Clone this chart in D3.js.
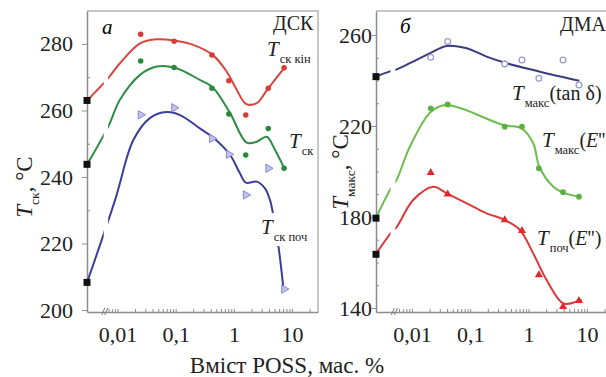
<!DOCTYPE html>
<html>
<head>
<meta charset="utf-8">
<script src="https://cdn.jsdelivr.net/npm/d3@7"></script>
<style>
  body { margin: 0; background: #fff; }
  svg { display: block; font-family: "Liberation Serif", "Times New Roman", serif; }
  .axis path, .axis line { stroke: #8c8c8c; }
  .axis text { font-size: 22px; fill: #222; font-family: "Liberation Serif", serif; }
</style>
</head>
<body>
<div id="chart"></div>
<script>
// ---- panel a (DSC) ----
const dscConc = [0.025, 0.094, 0.42, 0.82, 1.6, 3.9, 7.3];
const dscEndVals = [282.9, 280.8, 276.7, 268.9, 258.6, 266.7, 272.8];
const dscGlassVals = [274.9, 272.9, 266.7, 258.9, 246.6, 254.6, 242.6];
const dscStartVals = [258.7, 260.8, 251.6, 246.8, 234.6, 242.6, 206.3];
const dscZero = [263, 243.8, 208.3];   // pure matrix (0 % POSS)

// fitted curves as drawn in the figure
const dscEndFitX = [0.003, 0.0067, 0.011, 0.0244, 0.047, 0.095, 0.2, 0.43, 0.75, 1.12, 1.61, 2.47, 3.8, 7.35];
const dscEndFitY = [263, 269.4, 274.2, 280.2, 281.4, 281, 279.7, 276.7, 271.7, 266.2, 262, 262.2, 266.4, 272.8];
const dscGlassFitX = [0.003, 0.007, 0.011, 0.0244, 0.047, 0.095, 0.26, 0.43, 0.86, 1.66, 2.47, 3.66, 5.1, 7.35];
const dscGlassFitY = [243.8, 255.3, 263.2, 270.7, 273.2, 272.9, 269.2, 267, 259.2, 250.3, 250.6, 252.1, 248.1, 242.6];
const dscStartFitX = [0.003, 0.0091, 0.0187, 0.036, 0.07, 0.119, 0.26, 0.43, 0.86, 1.27, 1.61, 2.47, 3.42, 4.17, 4.89, 5.8, 7.06];
const dscStartFitY = [208.3, 233.1, 251.1, 257.7, 259.5, 258.6, 254.6, 252, 246.6, 241.1, 238.3, 238.6, 236.6, 233.1, 227.3, 219.5, 207];

// ---- panel b (DMA) ----
const dmaConc = [0.021, 0.041, 0.39, 0.77, 1.5, 3.9, 7.3];
const dmaTanVals = [250.2, 257.1, 247.3, 249, 241, 249, 238];
const dmaEMaxVals = [227.8, 229.5, 219.7, 219.7, 201.4, 190.9, 188.9];
const dmaEStartVals = [199.5, 190, 178.7, 174, 154.5, 140.6, 143.2];
const dmaZero = [241.7, 179.5, 163.6];

const dmaTanFitX = [0.0024, 0.0041, 0.0051, 0.0092, 0.0204, 0.0394, 0.087, 0.19, 0.42, 1.2, 2.65, 7.4];
const dmaTanFitY = [241.7, 243.9, 244.6, 247.6, 252, 255.2, 254.2, 250.5, 247.6, 244.6, 242.4, 239.9];
const dmaEMaxFitX = [0.0024, 0.0045, 0.0055, 0.0092, 0.0212, 0.0394, 0.37, 0.76, 1.2, 1.53, 2.65, 3.94, 7.4];
const dmaEMaxFitY = [179.5, 193.3, 196.5, 210.9, 226.3, 229.2, 220.4, 219, 212.4, 202.1, 193.3, 190.7, 188.9];
const dmaEStartFitX = [0.0024, 0.0043, 0.0055, 0.0105, 0.0232, 0.0394, 0.087, 0.19, 0.37, 0.71, 1.2, 2.04, 3.94, 6.7, 8.2];
const dmaEStartFitY = [163.6, 172.8, 175.7, 187.5, 193.3, 190.4, 186, 181.6, 179, 174.3, 164, 152.3, 142, 142.8, 143.5];

const xTickVals = [0.01, 0.1, 1, 10];
const xTickLabels = ["0,01", "0,1", "1", "10"];

const W = 606, H = 377;
const svg = d3.select("#chart").append("svg").attr("width", W).attr("height", H);

const plotTop = 11, plotBottom = 312;

// scales
const xA = d3.scaleLog().domain([0.00299, 27.9]).range([87, 318]);
const yA = d3.scaleLinear().domain([199.4, 289.9]).range([plotBottom, plotTop]);
const xB = d3.scaleLog().domain([0.00242, 22.1]).range([376, 607]);
const yB = d3.scaleLinear().domain([138.24, 270.55]).range([plotBottom, plotTop]);

// minor log ticks
function minorTicks(x, from) {
  const out = [];
  for (let e = -3; e <= 1; e++) {
    for (let m = 1; m <= 9; m++) {
      const v = m * Math.pow(10, e);
      if (v > from && v < x.domain()[1]) out.push(v);
    }
  }
  return out;
}

function drawPanel(cfg) {
  const { x, y } = cfg;
  const g = svg.append("g");

  // frame (top, right)
  g.append("path")
    .attr("d", `M${x.range()[0]},${plotTop}H${x.range()[1]}V${plotBottom}`)
    .attr("fill", "none").attr("stroke", "#b5b5b5").attr("stroke-width", 1.5);

  // y axis
  g.append("g").attr("class", "axis")
    .attr("transform", `translate(${x.range()[0]},0)`)
    .call(d3.axisLeft(y).tickValues(cfg.yMajor).tickSize(cfg.yTickSize).tickPadding(cfg.yPad).tickSizeOuter(0))
    .call(a => a.select(".domain").attr("stroke-width", 1.5));
  g.append("g").attr("class", "axis")
    .attr("transform", `translate(${x.range()[0]},0)`)
    .call(d3.axisRight(y).tickValues(cfg.yMinor).tickSize(3).tickFormat("").tickSizeOuter(0))
    .call(a => a.select(".domain").remove());

  // x axis
  g.append("g").attr("class", "axis")
    .attr("transform", `translate(0,${plotBottom})`)
    .call(d3.axisBottom(x).tickValues(xTickVals).tickSize(0).tickPadding(14)
      .tickFormat((d, i) => xTickLabels[i]).tickSizeOuter(0))
    .call(a => a.select(".domain").attr("stroke-width", 1.5));
  g.append("g").attr("class", "axis")
    .attr("transform", `translate(0,${plotBottom})`)
    .call(d3.axisTop(x).tickValues(minorTicks(x, cfg.breakTo)).tickSize(3).tickFormat("").tickSizeOuter(0))
    .call(a => a.select(".domain").remove());

  // axis break "//"
  const bx = x(cfg.breakAt);
  [0, 3].forEach(o => {
    g.append("line")
      .attr("x1", bx + o - 2).attr("y1", plotBottom + 3)
      .attr("x2", bx + o + 1).attr("y2", plotBottom - 4)
      .attr("stroke", "#777").attr("stroke-width", 1);
  });

  // clip with a gap after the zero point
  const clipId = "clip" + cfg.id;
  const cp = svg.append("clipPath").attr("id", clipId);
  cp.append("rect").attr("x", x.range()[0] - 10).attr("y", 0)
    .attr("width", x(cfg.gapFrom) - x.range()[0] + 10).attr("height", H);
  cp.append("rect").attr("x", x(cfg.gapTo)).attr("y", 0)
    .attr("width", W - x(cfg.gapTo)).attr("height", H);

  const line = d3.line()
    .x(d => x(d[0])).y(d => y(d[1]))
    .curve(d3.curveCatmullRom.alpha(0.5));

  cfg.series.forEach(s => {
    g.append("path")
      .datum(d3.zip(s.fitX, s.fitY))
      .attr("d", line)
      .attr("fill", "none")
      .attr("stroke", s.color)
      .attr("stroke-width", 2)
      .attr("clip-path", `url(#${clipId})`);
  });

  cfg.series.forEach(s => {
    const pts = d3.zip(cfg.conc, s.vals);
    const sym = d3.symbol().type(s.symbol).size(s.size);
    g.selectAll(null).data(pts).enter().append("path")
      .attr("d", sym)
      .attr("transform", d => `translate(${x(d[0])},${y(d[1])}) rotate(${s.rotate || 0})`)
      .attr("fill", s.fill).attr("stroke", s.stroke || "none").attr("stroke-width", s.sw || 0);
    // zero point
    g.append("rect")
      .attr("x", x.range()[0] - 3.5).attr("y", y(s.zero) - 3.5)
      .attr("width", 7).attr("height", 7).attr("fill", "#111");
  });

  return g;
}

function label(g, px, py, sub, tail) {
  const t = g.append("text").attr("x", px).attr("y", py).attr("font-size", 21).attr("fill", "#222");
  t.append("tspan").attr("font-style", "italic").text("T");
  t.append("tspan").attr("font-size", 12.5).attr("dy", 7).attr("dx", 1).text(sub);
  if (tail) {
    // tail like "(tan δ)" or "(E'')"
    const first = t.append("tspan").attr("dy", -7).attr("font-size", 20);
    if (tail.italicE) {
      first.text("(");
      t.append("tspan").attr("font-size", 20).attr("font-style", "italic").text("E");
      t.append("tspan").attr("font-size", 20).text("'')");
    } else {
      first.text(tail.text);
    }
  }
  return t;
}

// panel a
const gA = drawPanel({
  id: "A", x: xA, y: yA,
  yMajor: [200, 220, 240, 260, 280], yMinor: [210, 230, 250, 270],
  yTickSize: 5, yPad: 9,
  breakAt: 0.0058, breakTo: 0.0068, gapFrom: 0.0058, gapTo: 0.0069,
  conc: dscConc,
  series: [
    { fitX: dscEndFitX, fitY: dscEndFitY, vals: dscEndVals, zero: dscZero[0], color: "#d8463f",
      symbol: d3.symbolCircle, size: 24, fill: "#d93a33" },
    { fitX: dscGlassFitX, fitY: dscGlassFitY, vals: dscGlassVals, zero: dscZero[1], color: "#2f8b45",
      symbol: d3.symbolCircle, size: 24, fill: "#2a8a3c" },
    { fitX: dscStartFitX, fitY: dscStartFitY, vals: dscStartVals, zero: dscZero[2], color: "#3b3e9c",
      symbol: d3.symbolTriangle, size: 30, rotate: 90, fill: "#c3c3ec", stroke: "#8787cc", sw: 1 }
  ]
});

// panel b
const gB = drawPanel({
  id: "B", x: xB, y: yB,
  yMajor: [140, 180, 220, 260], yMinor: [150, 160, 170, 190, 200, 210, 230, 240, 250],
  yTickSize: 4, yPad: 0,
  breakAt: 0.0048, breakTo: 0.0055, gapFrom: 0.0043, gapTo: 0.0052,
  conc: dmaConc,
  series: [
    { fitX: dmaTanFitX, fitY: dmaTanFitY, vals: dmaTanVals, zero: dmaZero[0], color: "#3a3c7c",
      symbol: d3.symbolCircle, size: 26, fill: "#fff", stroke: "#9c9acb", sw: 1.3 },
    { fitX: dmaEMaxFitX, fitY: dmaEMaxFitY, vals: dmaEMaxVals, zero: dmaZero[1], color: "#6cbd4e",
      symbol: d3.symbolCircle, size: 26, fill: "#5cb043" },
    { fitX: dmaEStartFitX, fitY: dmaEStartFitY, vals: dmaEStartVals, zero: dmaZero[2], color: "#d93a3c",
      symbol: d3.symbolTriangle, size: 28, fill: "#e02a2a" }
  ]
});

// panel letters and method names
gA.append("text").attr("x", 102).attr("y", 34).attr("font-size", 21).attr("font-style", "italic").text("а");
gB.append("text").attr("x", 400).attr("y", 33).attr("font-size", 21).attr("font-style", "italic").text("б");
gA.append("text").attr("x", 273).attr("y", 30).attr("font-size", 20).attr("fill", "#222").text("ДСК");
gB.append("text").attr("x", 560).attr("y", 31).attr("font-size", 20).attr("fill", "#222").text("ДМА");

// curve labels
label(gA, 267, 56, "ск кін");
label(gA, 289, 148, "ск");
const lp = label(gA, 261, 234, "ск поч");
const bb = lp.node().getBBox();
gA.append("rect").attr("x", bb.x - 1).attr("y", bb.y - 2)
  .attr("width", bb.width + 2).attr("height", bb.height + 4).attr("fill", "#fff");
lp.raise();

label(gB, 512, 100, "макс", { text: "(tan δ)" });
label(gB, 542, 147, "макс", { italicE: true });
label(gB, 537, 245, "поч", { italicE: true });

// axis titles
function yTitle(cx, cy, sub) {
  const t = svg.append("text")
    .attr("transform", `translate(${cx},${cy}) rotate(-90)`)
    .attr("text-anchor", "middle").attr("font-size", 23).attr("fill", "#222");
  t.append("tspan").attr("font-style", "italic").text("T");
  t.append("tspan").attr("font-size", 13.5).attr("dy", 7).text(sub);
  t.append("tspan").attr("dy", -7).text(", °C");
}
yTitle(32, 187, "ск");
yTitle(348, 172, "макс");

svg.append("text").attr("x", 287).attr("y", 373).attr("text-anchor", "middle")
  .attr("font-size", 23).attr("fill", "#222").text("Вміст POSS, мас. %");
</script>
</body>
</html>
